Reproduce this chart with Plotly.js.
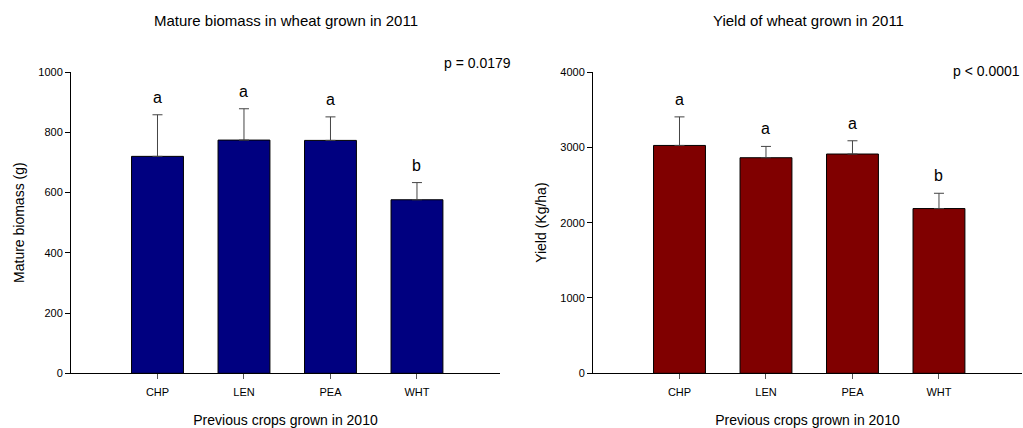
<!DOCTYPE html>
<html><head><meta charset="utf-8">
<script src="https://cdn.plot.ly/plotly-3.0.1.min.js"></script>
<style>html,body{margin:0;padding:0;background:#fff}#chart{width:1023px;height:428px}</style>
</head><body><div id="chart"></div>
<script>
const crops = ["CHP", "LEN", "PEA", "WHT"];
const biomass = [720, 774, 773, 576];
const biomassSE = [138, 104, 78, 57];
const biomassLetters = ["a", "a", "a", "b"];
const yieldVals = [3025, 2862, 2911, 2187];
const yieldSE = [379, 150, 176, 203];
const yieldLetters = ["a", "a", "a", "b"];
const titles = ["Mature biomass in wheat grown in 2011", "Yield of wheat grown in 2011"];
const pTexts = ["p = 0.0179", "p < 0.0001"];

const FONT = "Liberation Sans, Arial, sans-serif";
const zeros = crops.map(() => 0);

function barTrace(vals, se, color, xa, ya) {
  return {
    type: "bar", x: crops, y: vals, xaxis: xa, yaxis: ya, width: 0.6,
    marker: {color: color, line: {color: "#000", width: 1}},
    error_y: {type: "data", symmetric: false, array: se, arrayminus: zeros,
              color: "#444", thickness: 1, width: 5},
    hoverinfo: "x+y", showlegend: false
  };
}

const data = [
  barTrace(biomass, biomassSE, "#000080", "x", "y"),
  barTrace(yieldVals, yieldSE, "#800000", "x2", "y2")
];

const ann = [];
function letters(vals, se, lets, xr, yr) {
  crops.forEach((c, i) => ann.push({
    x: c, y: vals[i] + se[i], xref: xr, yref: yr, text: lets[i], showarrow: false,
    yanchor: "bottom", yshift: 7, font: {size: 16, color: "#000", family: FONT}
  }));
}
letters(biomass, biomassSE, biomassLetters, "x", "y");
letters(yieldVals, yieldSE, yieldLetters, "x2", "y2");

ann.push({x: 285.5/1023, y: 1 - 20/428, xref: "paper", yref: "paper", text: titles[0], showarrow: false,
  xanchor: "center", yanchor: "middle", font: {size: 15, color: "#000", family: FONT}});
ann.push({x: 808/1023, y: 1 - 20/428, xref: "paper", yref: "paper", text: titles[1], showarrow: false,
  xanchor: "center", yanchor: "middle", font: {size: 15, color: "#000", family: FONT}});
ann.push({x: 513/1023, y: 1 - 63/428, xref: "paper", yref: "paper", text: pTexts[0], showarrow: false,
  xanchor: "right", yanchor: "middle", font: {size: 14, color: "#000", family: FONT}});
ann.push({x: 1022/1023, y: 1 - 71/428, xref: "paper", yref: "paper", text: pTexts[1], showarrow: false,
  xanchor: "right", yanchor: "middle", font: {size: 14, color: "#000", family: FONT}});

function xAxis(domain) {
  return {
    domain: domain, type: "category", range: [-1, 3.96], fixedrange: true,
    showline: true, linecolor: "#000", linewidth: 1, showgrid: false, zeroline: false,
    ticks: "outside", ticklen: 5, tickcolor: "#555", tickwidth: 1, ticklabelstandoff: 3,
    tickfont: {size: 11, color: "#000", family: FONT},
    title: {text: "Previous crops grown in 2010", standoff: 19, font: {size: 14, color: "#000", family: FONT}}
  };
}
function yAxis(max, dtick, label, anchor) {
  return {
    domain: [1 - 373.3/428, 1 - 72/428], range: [0, max], dtick: dtick, anchor: anchor,
    fixedrange: true, showline: true, linecolor: "#000", linewidth: 1,
    showgrid: false, zeroline: false, ticks: "outside", ticklen: 5, tickcolor: "#000",
    tickfont: {size: 11, color: "#000", family: FONT},
    title: {text: label, standoff: 10, font: {size: 14, color: "#000", family: FONT}}
  };
}

const layout = {
  width: 1023, height: 428,
  margin: {l: 0, r: 0, t: 0, b: 0},
  paper_bgcolor: "#fff", plot_bgcolor: "#fff",
  font: {family: FONT, color: "#000"},
  bargap: 0.4,
  xaxis: Object.assign(xAxis([71/1023, 500/1023]), {anchor: "y"}),
  xaxis2: Object.assign(xAxis([593/1023, 1022/1023]), {anchor: "y2"}),
  yaxis: yAxis(1000, 200, "Mature biomass (g)", "x"),
  yaxis2: yAxis(4000, 1000, "Yield (Kg/ha)", "x2"),
  annotations: ann
};

Plotly.newPlot("chart", data, layout, {displayModeBar: false, staticPlot: true});
</script>
</body></html>
